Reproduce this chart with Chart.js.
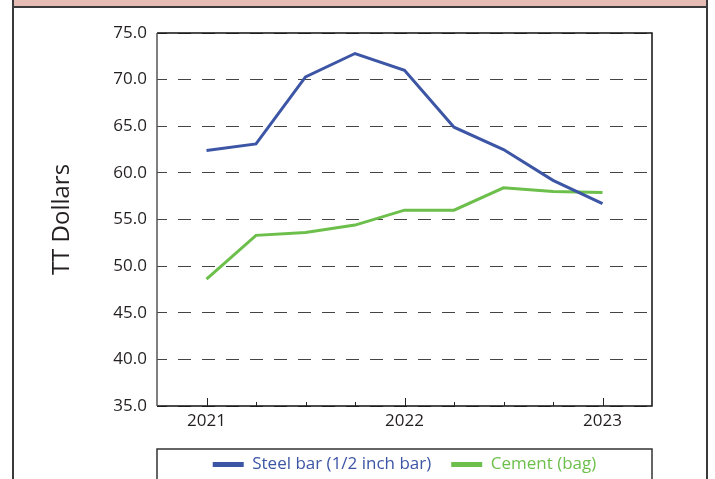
<!DOCTYPE html>
<html>
<head>
<meta charset="utf-8">
<script src="https://cdn.jsdelivr.net/npm/chart.js@4"></script>
<style>
  html, body { margin: 0; padding: 0; background: #fff; }
  #wrap { width: 715px; height: 479px; }
</style>
</head>
<body>
<div id="wrap"><canvas id="chart" width="715" height="479"></canvas></div>
<script>
// quarterly points, as decimal years
const quarters = [2021, 2021.25, 2021.5, 2021.75, 2022, 2022.25, 2022.5, 2022.75, 2023];
const steelBar = [62.4, 63.1, 70.3, 72.8, 71.0, 64.9, 62.5, 59.2, 56.7];
const cement = [48.6, 53.3, 53.6, 54.4, 56.0, 56.0, 58.4, 58.0, 57.9];
const seriesNames = ['Steel bar (1/2 inch bar)', 'Cement (bag)'];
const seriesColors = ['#3c55a5', '#6cbf4a'];

const fontFamily = '"Open Sans", "Noto Sans", sans-serif';

// page frame: pink strip on top, side rules
const framePlugin = {
  id: 'frame',
  beforeDraw(chart) {
    const ctx = chart.ctx;
    ctx.save();
    ctx.fillStyle = '#fff';
    ctx.fillRect(0, 0, chart.width, chart.height);
    ctx.fillStyle = '#e6bcb5';
    ctx.fillRect(12, 0, 695, 6);
    ctx.strokeStyle = '#3a3a3a';
    ctx.lineWidth = 2;
    ctx.beginPath();
    ctx.moveTo(12, 7);
    ctx.lineTo(707, 7);
    ctx.moveTo(13, 0);
    ctx.lineTo(13, chart.height);
    ctx.moveTo(707, 0);
    ctx.lineTo(707, chart.height);
    ctx.stroke();
    ctx.restore();
  },
  afterDraw(chart) {
    const ctx = chart.ctx;
    const {left, right, top, bottom} = chart.chartArea;
    ctx.save();
    // plot box
    ctx.lineWidth = 1.5;
    ctx.strokeStyle = '#111';
    ctx.beginPath();
    ctx.moveTo(left, top);
    ctx.lineTo(right, top);
    ctx.lineTo(right, bottom);
    ctx.lineTo(left, bottom);
    ctx.stroke();
    ctx.strokeStyle = '#555';
    ctx.beginPath();
    ctx.moveTo(left, top);
    ctx.lineTo(left, bottom);
    ctx.stroke();

    // inward tick marks on the x axis
    const x = chart.scales.x;
    ctx.strokeStyle = '#222';
    ctx.lineWidth = 1;
    x.ticks.forEach(t => {
      if (t.value <= x.min || t.value >= x.max) return;
      const px = Math.round(x.getPixelForValue(t.value)) + 0.5;
      const len = Number.isInteger(t.value) ? 8 : 4;
      ctx.beginPath();
      ctx.moveTo(px, bottom);
      ctx.lineTo(px, bottom - len);
      ctx.stroke();
    });

    // legend frame
    ctx.strokeStyle = '#333';
    ctx.lineWidth = 1.5;
    ctx.strokeRect(left, 449, right - left, 60);
    ctx.restore();
  }
};

const ctx = document.getElementById('chart').getContext('2d');
new Chart(ctx, {
  type: 'line',
  data: {
    datasets: [
      {
        label: seriesNames[0],
        data: quarters.map((q, i) => ({x: q, y: steelBar[i]})),
        borderColor: seriesColors[0],
        backgroundColor: seriesColors[0],
        borderWidth: 3,
        pointRadius: 0,
        tension: 0
      },
      {
        label: seriesNames[1],
        data: quarters.map((q, i) => ({x: q, y: cement[i]})),
        borderColor: seriesColors[1],
        backgroundColor: seriesColors[1],
        borderWidth: 3,
        pointRadius: 0,
        tension: 0
      }
    ]
  },
  options: {
    responsive: false,
    animation: false,
    layout: { padding: { left: 0, top: 33, right: 63, bottom: -4 } },
    plugins: {
      legend: {
        position: 'bottom',
        fullSize: false,
        labels: {
          boxWidth: 31,
          boxHeight: 5,
          padding: 20,
          font: { family: fontFamily, size: 17 },
          generateLabels(chart) {
            return Chart.defaults.plugins.legend.labels.generateLabels(chart).map(l => {
              l.lineWidth = 0;
              l.fontColor = seriesColors[l.datasetIndex];
              return l;
            });
          }
        }
      },
      tooltip: { enabled: false }
    },
    scales: {
      x: {
        type: 'linear',
        min: 2020.75,
        max: 2023.25,
        afterFit(scale) { scale.height = 30; },
        grid: { display: false, drawTicks: false },
        border: { display: false },
        ticks: {
          stepSize: 0.25,
          autoSkip: false,
          maxRotation: 0,
          padding: 5,
          color: '#231f20',
          font: { family: fontFamily, size: 17 },
          callback: v => Number.isInteger(v) ? String(v) : ''
        }
      },
      y: {
        min: 35,
        max: 75,
        afterFit(scale) { scale.width = 157; },
        grid: { color: '#444', lineWidth: 1, drawTicks: false },
        border: { display: false, dash: [13, 11], dashOffset: 3 },
        ticks: {
          stepSize: 5,
          padding: 10,
          color: '#231f20',
          font: { family: fontFamily, size: 17 },
          callback: v => v.toFixed(1)
        },
        title: {
          display: true,
          text: 'TT Dollars',
          color: '#231f20',
          font: { family: fontFamily, size: 24 },
          padding: { top: 48, bottom: 0 }
        }
      }
    }
  },
  plugins: [framePlugin]
});
</script>
</body>
</html>
